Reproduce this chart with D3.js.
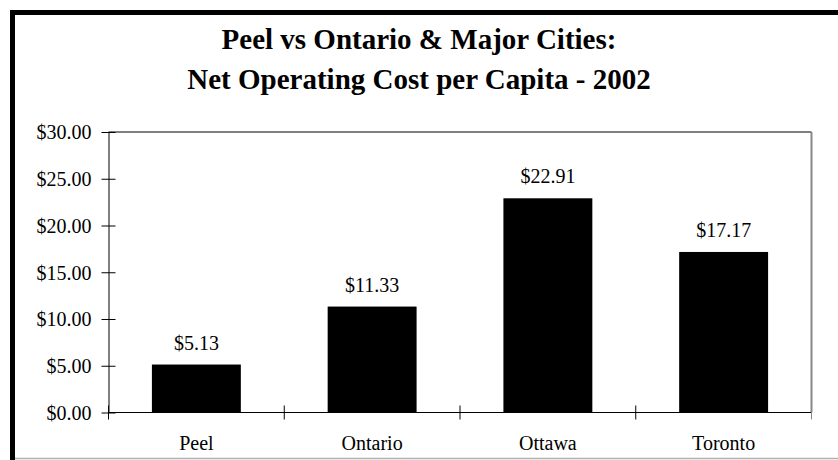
<!DOCTYPE html>
<html>
<head>
<meta charset="utf-8">
<script src="https://cdn.jsdelivr.net/npm/d3@7/dist/d3.min.js"></script>
<style>
  html, body { margin: 0; padding: 0; background: #fff; }
  svg { display: block; }
  text { font-family: "Liberation Serif", "Times New Roman", serif; fill: #000; }
</style>
</head>
<body>
<script>
// Net operating cost per capita, 2002
const categories = ["Peel", "Ontario", "Ottawa", "Toronto"];
const costPerCapita = [5.13, 11.33, 22.91, 17.17];
const yTicks = [0, 5, 10, 15, 20, 25, 30];
const titleLines = ["Peel vs Ontario & Major Cities:", "Net Operating Cost per Capita - 2002"];

const W = 838, H = 460;
const plot = { left: 108.5, right: 811.5, top: 132, bottom: 412.5 };
const labelSize = 20;

const svg = d3.select("body").append("svg")
  .attr("width", W).attr("height", H);

svg.append("rect").attr("width", W).attr("height", H).attr("fill", "#fff");

// outer frame
svg.append("line").attr("x1", 15).attr("x2", W).attr("y1", 458.5).attr("y2", 458.5)
  .attr("stroke", "#b0b0b0").attr("stroke-width", 1.5);
svg.append("path")
  .attr("d", `M12.5,${H} V12.5 H${W}`)
  .attr("fill", "none").attr("stroke", "#000").attr("stroke-width", 5);

// title
svg.append("g").selectAll("text").data(titleLines).join("text")
  .attr("x", 419).attr("y", (d, i) => 48.5 + i * 40)
  .attr("text-anchor", "middle")
  .attr("font-size", 29).attr("font-weight", "bold")
  .text(d => d);

const x = d3.scaleBand().domain(categories)
  .range([plot.left, plot.right])
  .paddingInner(0.494).paddingOuter(0.247);
const y = d3.scaleLinear().domain([0, 30]).range([plot.bottom, plot.top]);

// plot box: top edge black, right edge grey
svg.append("line").attr("x1", plot.left).attr("x2", plot.right)
  .attr("y1", plot.top).attr("y2", plot.top).attr("stroke", "#000").attr("stroke-width", 1);
svg.append("line").attr("x1", plot.right).attr("x2", plot.right)
  .attr("y1", plot.top).attr("y2", plot.bottom).attr("stroke", "#888").attr("stroke-width", 2);

// bars
svg.append("g").selectAll("rect").data(costPerCapita).join("rect")
  .attr("x", (d, i) => x(categories[i]))
  .attr("width", x.bandwidth())
  .attr("y", d => y(d))
  .attr("height", d => y(0) - y(d))
  .attr("fill", "#000");

// value labels
svg.append("g").selectAll("text").data(costPerCapita).join("text")
  .attr("x", (d, i) => x(categories[i]) + x.bandwidth() / 2)
  .attr("y", d => y(d) - 15)
  .attr("text-anchor", "middle").attr("font-size", labelSize)
  .text(d => "$" + d.toFixed(2));

// y axis
const yAxis = d3.axisLeft(y).tickValues(yTicks)
  .tickFormat(d => "$" + d3.format(".2f")(d))
  .tickSize(0).tickPadding(17);
const gy = svg.append("g").attr("transform", `translate(${plot.left},0)`).call(yAxis);
gy.select(".domain").attr("stroke", "#000");
gy.selectAll(".tick text").attr("font-size", labelSize).attr("fill", "#000")
  .attr("dy", "0.34em");
gy.selectAll(".tick").append("line")
  .attr("x1", -7).attr("x2", 7).attr("stroke", "#000");

// x axis with ticks on category boundaries
const gx = svg.append("g").attr("transform", `translate(0,${plot.bottom})`);
gx.append("line").attr("x1", plot.left).attr("x2", plot.right).attr("stroke", "#000");
const bounds = d3.range(categories.length + 1).map(i => plot.left + i * x.step());
gx.selectAll("line.tk").data(bounds).join("line").attr("class", "tk")
  .attr("x1", d => d).attr("x2", d => d).attr("y1", -7).attr("y2", 7)
  .attr("stroke", (d, i) => i === categories.length ? "#888" : "#000");
gx.selectAll("text").data(categories).join("text")
  .attr("x", d => x(d) + x.bandwidth() / 2).attr("y", 37.5)
  .attr("text-anchor", "middle").attr("font-size", labelSize)
  .text(d => d);
</script>
</body>
</html>
